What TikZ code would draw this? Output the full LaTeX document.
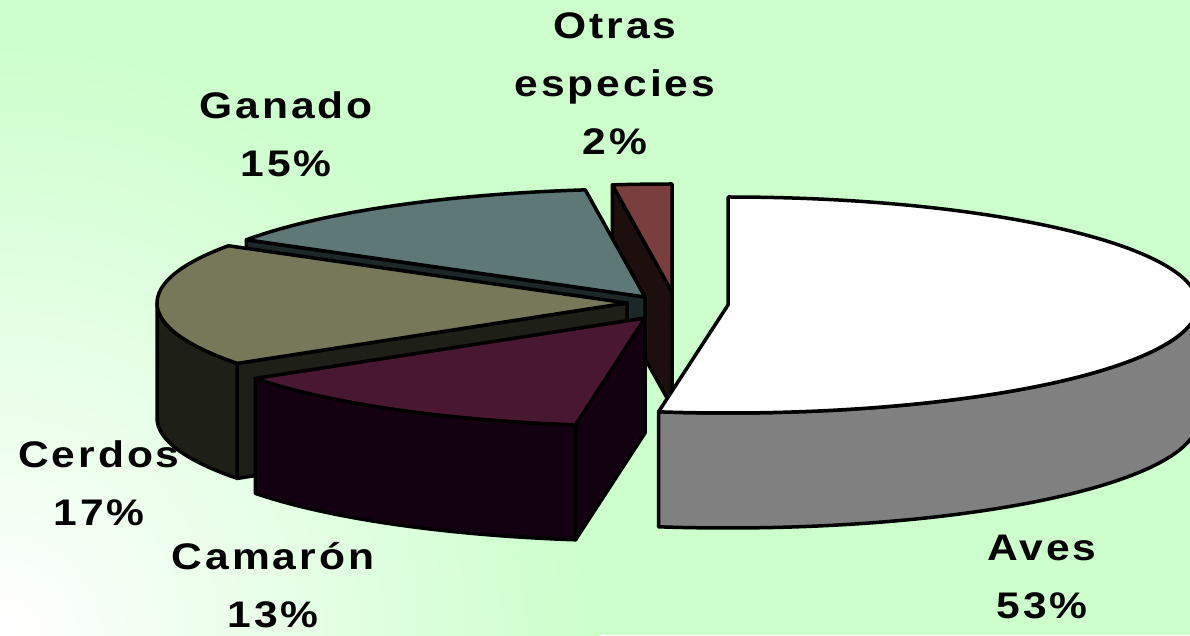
\documentclass[tikz,border=0pt]{standalone}
\usepackage{fontspec}
\setmainfont{Liberation Sans}[FakeStretch=1.15, LetterSpace=8]
\usetikzlibrary{calc}

\definecolor{bggreen}{HTML}{CCFFCC}
\definecolor{avestop}{HTML}{FFFFFF}
\definecolor{avesside}{HTML}{808080}
\definecolor{camtop}{HTML}{4A1733}
\definecolor{camside}{HTML}{130010}
\definecolor{cerdtop}{HTML}{77775A}
\definecolor{cerdside}{HTML}{1E1F17}
\definecolor{gantop}{HTML}{5E7878}
\definecolor{ganside}{HTML}{1C2727}
\definecolor{otrtop}{HTML}{7A3E3E}
\definecolor{otrside}{HTML}{1E0F0F}

\newcommand{\pierx}{470}
\newcommand{\piery}{108}
\newcommand{\pieh}{115}

\begin{document}
\begin{tikzpicture}[
                x=1pt, y=1pt,
                slice face/.style={draw=black, line width=3.5pt, line join=round},
                pielabel/.style={font=\bfseries\fontsize{37}{58}\selectfont, align=center, anchor=base, inner sep=0pt}
            ]
                \useasboundingbox (0,0) rectangle (1190,635);
                \clip (0,0) rectangle (1190,635);
                \fill[bggreen] (0,0) rectangle (1190,635);
                \shade[inner color=white, outer color=bggreen] (0,0) circle (600);

                % centres of the exploded slices
                \coordinate (aves)    at (728,330);
                \coordinate (camaron) at (645,317);
                \coordinate (cerdos)  at (627,332);
                \coordinate (ganado)  at (645,338);
                \coordinate (otras)   at (672,343);

                % otras especies
                \draw[slice face, fill=otrside] (otras) -- ($(otras)+({\pierx*cos(97.3)},{\piery*sin(97.3)})$) -- ++(0,-\pieh) -- ($(otras)+(0,-\pieh)$) -- cycle;
                \draw[slice face, fill=otrtop] (otras) -- ($(otras)+(0,\piery)$) arc[start angle=90, end angle=97.3, x radius=\pierx, y radius=\piery] -- cycle;

                % ganado
                \draw[slice face, fill=ganside] (ganado) -- ($(ganado)+({\pierx*cos(148)},{\piery*sin(148)})$) -- ++(0,-\pieh) -- ($(ganado)+(0,-\pieh)$) -- cycle;
                \draw[slice face, fill=gantop] (ganado) -- ($(ganado)+({\pierx*cos(97.3)},{\piery*sin(97.3)})$) arc[start angle=97.3, end angle=148, x radius=\pierx, y radius=\piery] -- cycle;

                % cerdos
                \draw[slice face, fill=cerdside] ($(cerdos)+(-\pierx,0)$) arc[start angle=180, end angle=214, x radius=\pierx, y radius=\piery] -- ++(0,-\pieh) arc[start angle=214, end angle=180, x radius=\pierx, y radius=\piery] -- cycle;
                \draw[slice face, fill=cerdside] (cerdos) -- ($(cerdos)+({\pierx*cos(214)},{\piery*sin(214)})$) -- ++(0,-\pieh) -- ($(cerdos)+(0,-\pieh)$) -- cycle;
                \draw[slice face, fill=cerdtop] (cerdos) -- ($(cerdos)+({\pierx*cos(148)},{\piery*sin(148)})$) arc[start angle=148, end angle=214, x radius=\pierx, y radius=\piery] -- cycle;

                % camaron
                \draw[slice face, fill=camside] ($(camaron)+({\pierx*cos(214)},{\piery*sin(214)})$) arc[start angle=214, end angle=261.5, x radius=\pierx, y radius=\piery] -- ++(0,-\pieh) arc[start angle=261.5, end angle=214, x radius=\pierx, y radius=\piery] -- cycle;
                \draw[slice face, fill=camside] (camaron) -- ($(camaron)+({\pierx*cos(261.5)},{\piery*sin(261.5)})$) -- ++(0,-\pieh) -- ($(camaron)+(0,-\pieh)$) -- cycle;
                \draw[slice face, fill=camtop] (camaron) -- ($(camaron)+({\pierx*cos(214)},{\piery*sin(214)})$) arc[start angle=214, end angle=261.5, x radius=\pierx, y radius=\piery] -- cycle;

                % aves
                \draw[slice face, fill=avesside] ($(aves)+({\pierx*cos(261.5)},{\piery*sin(261.5)})$) arc[start angle=261.5, end angle=360, x radius=\pierx, y radius=\piery] -- ++(0,-\pieh) arc[start angle=360, end angle=261.5, x radius=\pierx, y radius=\piery] -- cycle;
                \draw[slice face, fill=avestop] (aves) -- ($(aves)+(0,\piery)$) arc[start angle=90, end angle=-98.5, x radius=\pierx, y radius=\piery] -- cycle;

                % labels (anchored at the baseline of their last line)
                \node[pielabel] (lblotras)   at (615,480) {Otras\\especies\\2\%};
                \node[pielabel] (lblganado)  at (286,458) {Ganado\\15\%};
                \node[pielabel] (lblcerdos)  at (99,110)  {Cerdos\\17\%};
                \node[pielabel] (lblcamaron) at (273,8)   {Camarón\\13\%};
                \node[pielabel] (lblaves)    at (1042,17) {Aves\\53\%};
            \end{tikzpicture}
\end{document}
